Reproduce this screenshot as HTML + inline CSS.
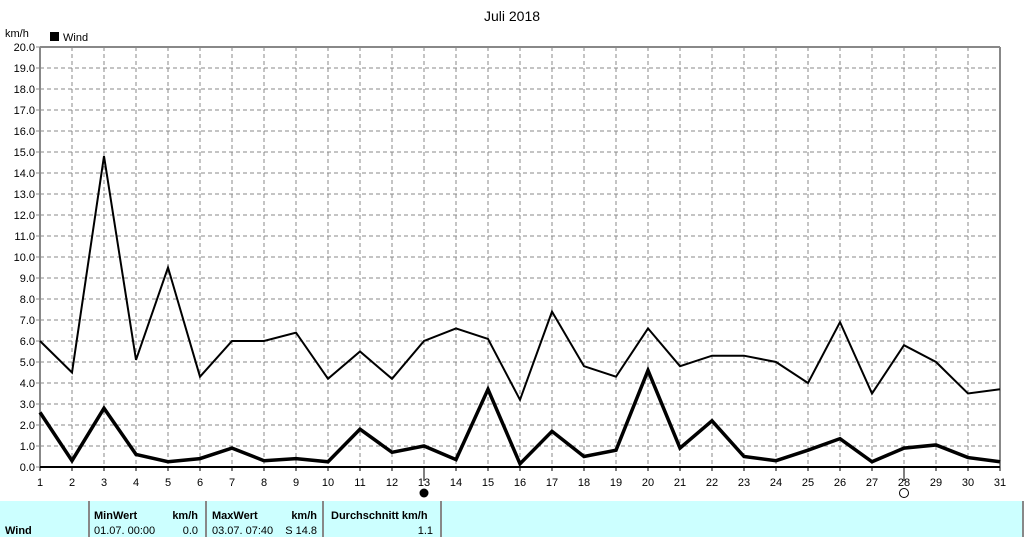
<!DOCTYPE html>
<html><head><meta charset="utf-8"><style>
body{margin:0;background:#fff;width:1024px;height:537px;overflow:hidden;font-family:"Liberation Sans",sans-serif}
svg{position:absolute;left:0;top:0}
</style></head><body>
<svg id="s" width="1024" height="537" xmlns="http://www.w3.org/2000/svg" font-family="Liberation Sans, sans-serif" font-size="11">
<text x="512" y="21" font-size="14" text-anchor="middle">Juli 2018</text>
<text x="5" y="37">km/h</text>
<rect x="50" y="32" width="9" height="9" fill="#000"/>
<text x="63" y="41">Wind</text>
<rect x="0" y="501" width="1024" height="36" fill="#ccffff"/>
<g stroke="#888" stroke-width="2"><line x1="89" y1="501" x2="89" y2="537"/><line x1="206" y1="501" x2="206" y2="537"/><line x1="323" y1="501" x2="323" y2="537"/><line x1="441" y1="501" x2="441" y2="537"/><line x1="1023" y1="501" x2="1023" y2="537"/></g>
<g font-weight="bold"><text x="94" y="519">MinWert</text><text x="198" y="519" text-anchor="end">km/h</text>
<text x="212" y="519">MaxWert</text><text x="317" y="519" text-anchor="end">km/h</text>
<text x="331" y="519">Durchschnitt km/h</text><text x="5" y="534">Wind</text></g>
<text x="94" y="534">01.07.  00:00</text><text x="198" y="534" text-anchor="end">0.0</text>
<text x="212" y="534">03.07.  07:40</text><text x="317" y="534" text-anchor="end">S 14.8</text>
<text x="433" y="534" text-anchor="end">1.1</text>
<g id="g"></g>
</svg>
<script>
var g=document.getElementById('g'),h='';
function X(d){return 40+(d-1)*32}function Y(v){return 467-v*21}
for(var i=0;i<=20;i++){var y=Y(i);
 if(i>0)h+='<line x1="40" y1="'+y+'" x2="1000" y2="'+y+'" stroke="#888" stroke-dasharray="4,3"/>';
 h+='<line x1="36" y1="'+y+'" x2="40" y2="'+y+'" stroke="#888"/>';
 h+='<text x="35" y="'+(y+4)+'" text-anchor="end">'+i.toFixed(1)+'</text>';}
for(var d=1;d<=31;d++){var x=X(d);
 if(d>1&&d<31)h+='<line x1="'+x+'" y1="47" x2="'+x+'" y2="467" stroke="#888" stroke-dasharray="4,3"/>';
 h+='<line x1="'+x+'" y1="467" x2="'+x+'" y2="'+((d==13||d==28)?481:471)+'" stroke="#000"/>';
 h+='<text x="'+x+'" y="486" text-anchor="middle">'+d+'</text>';}
h+='<line x1="40" y1="47" x2="1000" y2="47" stroke="#888" stroke-width="2"/>';
h+='<line x1="40" y1="47" x2="40" y2="467" stroke="#888" stroke-width="2"/>';
h+='<line x1="1000" y1="47" x2="1000" y2="467" stroke="#888" stroke-width="2"/>';
h+='<line x1="40" y1="467" x2="1000" y2="467" stroke="#000" stroke-width="2"/>';
h+='<circle cx="'+X(13)+'" cy="493" r="4.5" fill="#000"/><circle cx="'+X(28)+'" cy="493" r="4.5" fill="none" stroke="#000"/>';
var up=[6.0,4.5,14.8,5.1,9.5,4.3,6.0,6.0,6.4,4.2,5.5,4.2,6.0,6.6,6.1,3.2,7.4,4.8,4.3,6.6,4.8,5.3,5.3,5.0,4.0,6.9,3.5,5.8,5.0,3.5,3.7];
var lo=[2.6,0.3,2.8,0.6,0.25,0.4,0.9,0.3,0.4,0.25,1.8,0.7,1.0,0.35,3.7,0.15,1.7,0.5,0.8,4.6,0.9,2.2,0.5,0.3,0.8,1.35,0.25,0.9,1.05,0.45,0.25];
function P(a){return a.map(function(v,i){return X(i+1)+','+Y(v)}).join(' ')}
h+='<polyline points="'+P(up)+'" fill="none" stroke="#000" stroke-width="2"/>';
h+='<polyline points="'+P(lo)+'" fill="none" stroke="#000" stroke-width="3.5"/>';
g.innerHTML=h;
</script>
</body></html>
